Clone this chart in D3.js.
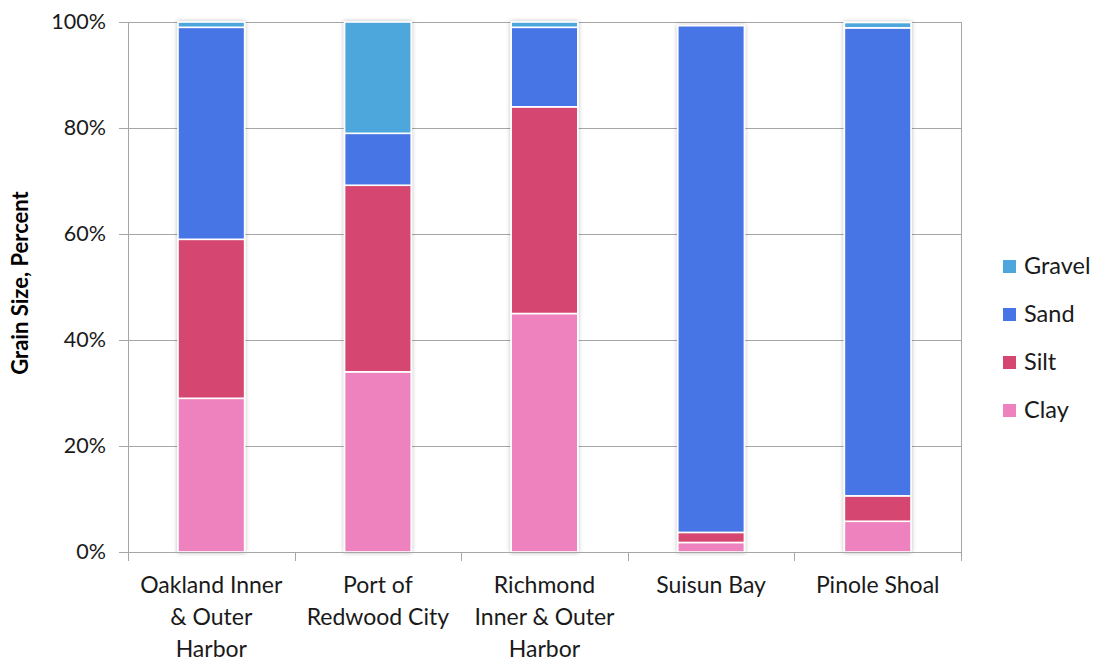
<!DOCTYPE html>
<html>
<head>
<meta charset="utf-8">
<script src="https://cdn.jsdelivr.net/npm/d3@7"></script>
<style>
  html, body { margin: 0; padding: 0; background: #fff; }
  svg { display: block; font-family: Lato, "Open Sans", sans-serif; }
</style>
</head>
<body>
<svg id="chart" width="1096" height="662"></svg>
<script>
// Sites sampled, with multi-line axis labels
const sites = ["Oakland Inner & Outer Harbor", "Port of Redwood City", "Richmond Inner & Outer Harbor", "Suisun Bay", "Pinole Shoal"];
const siteLabels = [
  ["Oakland Inner", "& Outer", "Harbor"],
  ["Port of", "Redwood City"],
  ["Richmond", "Inner & Outer", "Harbor"],
  ["Suisun Bay"],
  ["Pinole Shoal"]
];

// Grain size fractions (percent), stacked bottom to top
const fractions = ["Clay", "Silt", "Sand", "Gravel"];
const clay   = [29, 34, 45, 1.8, 5.8];
const silt   = [30, 35.2, 39, 1.9, 4.8];
const sand   = [40, 9.8, 15, 95.6, 88.3];
const gravel = [1, 21, 1, 0, 1];

const fractionColors = ["#ee82be", "#d54770", "#4775e6", "#4ea6dc"];
const yTicks = [0, 20, 40, 60, 80, 100];

const rows = sites.map((s, i) => ({
  site: s, Clay: clay[i], Silt: silt[i], Sand: sand[i], Gravel: gravel[i]
}));

const svg = d3.select("#chart");
const margin = { left: 128, right: 135, top: 22, bottom: 110 };
const W = 1096, H = 662;
const plotW = W - margin.left - margin.right;
const plotH = H - margin.top - margin.bottom;

// Soft shadow around bars
const defs = svg.append("defs");
const f = defs.append("filter").attr("id", "barShadow")
  .attr("x", "-20%").attr("y", "-5%").attr("width", "140%").attr("height", "110%");
f.append("feDropShadow").attr("dx", 0).attr("dy", 0).attr("stdDeviation", 2.2)
  .attr("flood-color", "#000").attr("flood-opacity", 0.28);

const g = svg.append("g").attr("transform", `translate(${margin.left},${margin.top})`);

const x = d3.scaleBand().domain(sites).range([0, plotW]).paddingInner(0.6).paddingOuter(0.3);
const y = d3.scaleLinear().domain([0, 100]).range([plotH, 0]);
const color = d3.scaleOrdinal().domain(fractions).range(fractionColors);

// Gridlines
g.append("g").selectAll("line").data(yTicks.filter(d => d > 0)).join("line")
  .attr("x1", 0).attr("x2", plotW)
  .attr("y1", d => Math.round(y(d)) + 0.5).attr("y2", d => Math.round(y(d)) + 0.5)
  .attr("stroke", "#a6a6a6").attr("stroke-width", 1);
// Right border of the plot area
g.append("line").attr("x1", plotW + 0.5).attr("x2", plotW + 0.5)
  .attr("y1", 0).attr("y2", plotH).attr("stroke", "#a6a6a6");

// Stacked bars
const stack = d3.stack().keys(fractions);
const series = stack(rows);
const barGroups = g.append("g").selectAll("g.site").data(rows).join("g")
  .attr("class", "site").attr("filter", "url(#barShadow)");
series.forEach(s => {
  barGroups.append("rect")
    .datum((d, i) => s[i])
    .attr("x", d => x(d.data.site))
    .attr("width", x.bandwidth())
    .attr("y", d => y(d[1]))
    .attr("height", d => Math.max(0, y(d[0]) - y(d[1])))
    .attr("fill", color(s.key))
    .attr("stroke", "#fff").attr("stroke-width", 1.6)
    .attr("display", d => (d[1] - d[0]) > 0 ? null : "none");
});

// Y axis
const yAxis = g.append("g").call(
  d3.axisLeft(y).tickValues(yTicks).tickFormat(d => d + "%").tickSize(9).tickPadding(13)
);
yAxis.select(".domain").attr("stroke", "#a6a6a6").attr("d", `M0.5,${plotH}V0`);
yAxis.selectAll(".tick line").attr("stroke", "#a6a6a6");
yAxis.selectAll(".tick text").attr("font-size", 21.5).attr("fill", "#1a1a1a")
  .attr("font-family", "Lato, 'Open Sans', sans-serif");

// X axis with ticks at the category boundaries
const xAxisG = g.append("g").attr("transform", `translate(0,${plotH})`);
xAxisG.append("line").attr("x1", 0).attr("x2", plotW).attr("y1", 0.5).attr("y2", 0.5).attr("stroke", "#a6a6a6");
const boundaries = d3.range(sites.length + 1).map(i => i * (plotW / sites.length));
xAxisG.selectAll("line.tk").data(boundaries).join("line").attr("class", "tk")
  .attr("x1", d => Math.round(d) + 0.5).attr("x2", d => Math.round(d) + 0.5)
  .attr("y1", 0).attr("y2", 9).attr("stroke", "#a6a6a6");

const labels = xAxisG.selectAll("text.cat").data(sites).join("text").attr("class", "cat")
  .attr("x", d => x(d) + x.bandwidth() / 2)
  .attr("text-anchor", "middle").attr("font-size", 23).attr("fill", "#1a1a1a");
labels.each(function(d, i) {
  const t = d3.select(this);
  siteLabels[i].forEach((ln, j) => {
    t.append("tspan").attr("x", x(d) + x.bandwidth() / 2).attr("y", 41 + j * 32).text(ln);
  });
});

// Y axis title
svg.append("text")
  .attr("transform", `translate(28,${margin.top + plotH / 2 - 4}) rotate(-90)`)
  .attr("text-anchor", "middle").attr("font-size", 22).attr("font-weight", "bold")
  .attr("fill", "#000").text("Grain Size, Percent");

// Legend (top entry is the top of the stack)
const legendItems = fractions.slice().reverse();
const legend = svg.append("g").attr("transform", "translate(1003,266)");
const li = legend.selectAll("g").data(legendItems).join("g")
  .attr("transform", (d, i) => `translate(0,${i * 48})`);
li.append("rect").attr("x", 0).attr("y", -6).attr("width", 13).attr("height", 13)
  .attr("fill", d => color(d));
li.append("text").attr("x", 21).attr("y", 0).attr("dy", "0.36em")
  .attr("font-size", 23.5).attr("fill", "#1a1a1a").text(d => d);
</script>
</body>
</html>
